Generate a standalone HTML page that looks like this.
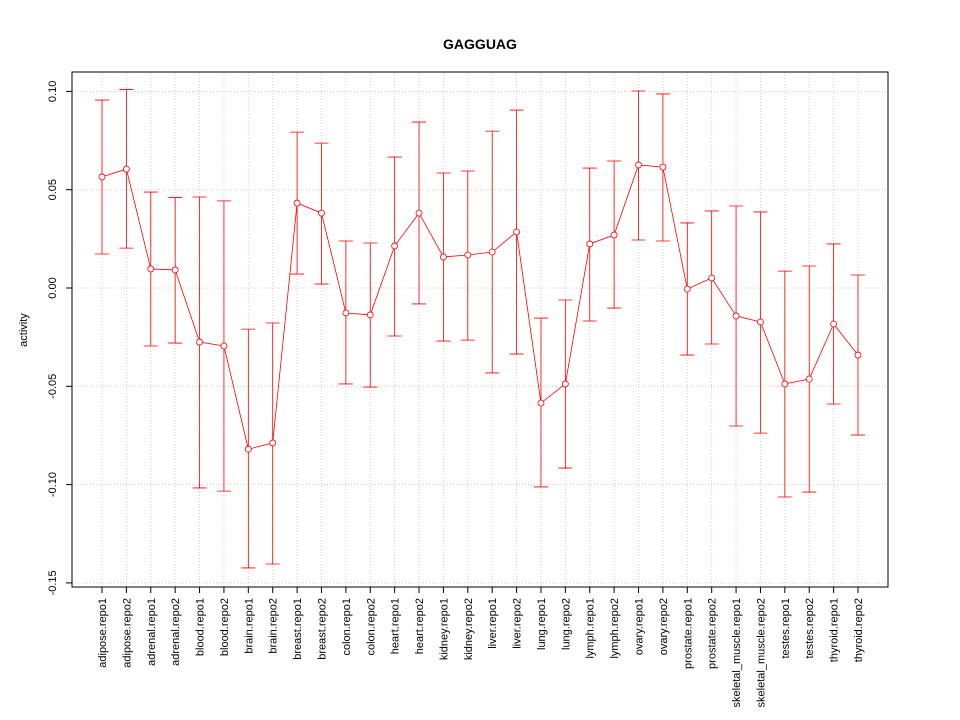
<!DOCTYPE html>
<html><head><meta charset="utf-8"><style>
body{margin:0;background:#fff;}
svg{display:block;font-family:"Liberation Sans",sans-serif;}
</style></head><body>
<svg id="chart" width="960" height="720">
<text x="480" y="49" text-anchor="middle" font-size="14" font-weight="bold">GAGGUAG</text>
<text transform="translate(27,330) rotate(-90)" text-anchor="middle" font-size="11">activity</text>
<g id="grid"></g><g id="yaxis"></g><g id="xaxis"></g><g id="series"></g>
<rect x="72" y="72" width="816" height="515" fill="none" stroke="#000"/>
</svg>
<script>
const categories=["adipose.repo1","adipose.repo2","adrenal.repo1","adrenal.repo2","blood.repo1","blood.repo2","brain.repo1","brain.repo2","breast.repo1","breast.repo2","colon.repo1","colon.repo2","heart.repo1","heart.repo2","kidney.repo1","kidney.repo2","liver.repo1","liver.repo2","lung.repo1","lung.repo2","lymph.repo1","lymph.repo2","ovary.repo1","ovary.repo2","prostate.repo1","prostate.repo2","skeletal_muscle.repo1","skeletal_muscle.repo2","testes.repo1","testes.repo2","thyroid.repo1","thyroid.repo2"];
const values=[0.0565,0.0605,0.0097,0.0092,-0.0275,-0.0295,-0.082,-0.0788,0.0432,0.0381,-0.0127,-0.0137,0.0214,0.0381,0.0158,0.0168,0.0183,0.0285,-0.0585,-0.0488,0.0224,0.027,0.0626,0.0615,-0.0005,0.0051,-0.0142,-0.0173,-0.0488,-0.0463,-0.0183,-0.0341];
const upper=[0.0956,0.101,0.0488,0.046,0.0463,0.0443,-0.0209,-0.0178,0.0793,0.0737,0.0239,0.0229,0.0666,0.0844,0.0585,0.0595,0.0798,0.0905,-0.0153,-0.0061,0.061,0.0646,0.1002,0.0987,0.0331,0.0392,0.0417,0.0387,0.0086,0.0112,0.0224,0.0066];
const lower=[0.0173,0.0203,-0.0295,-0.028,-0.1017,-0.1033,-0.1424,-0.1404,0.0071,0.002,-0.0488,-0.0504,-0.0244,-0.0081,-0.027,-0.0265,-0.0432,-0.0336,-0.1012,-0.0916,-0.0168,-0.0102,0.0244,0.0239,-0.0341,-0.0285,-0.0702,-0.0738,-0.1063,-0.1038,-0.059,-0.0748];
const yTicks=[0.10,0.05,0.00,-0.05,-0.10,-0.15];
const yTickLabels=["0.10","0.05","0.00","-0.05","-0.10","-0.15"];
const NS="http://www.w3.org/2000/svg";
const y=v=>288-v*1966;
const x=i=>102+i*(756/(categories.length-1));
function mk(tag,attrs,parent){const e=document.createElementNS(NS,tag);for(const k in attrs)e.setAttribute(k,attrs[k]);document.getElementById(parent).appendChild(e);return e;}
categories.forEach((c,i)=>{
 const g=mk("line",{x1:x(i),x2:x(i),y1:72,y2:587,stroke:"#ccc","stroke-dasharray":"1,2"},"grid");
 
 
 const t=mk("line",{x1:x(i),x2:x(i),y1:587,y2:593,stroke:"#000"},"xaxis");
 
 
 const l=mk("text",{transform:`translate(${x(i)+4},598) rotate(-90)`,"text-anchor":"end","font-size":"11"},"xaxis");
 l.textContent=c;
 
 
});
yTicks.forEach((v,i)=>{
 const g=mk("line",{x1:72,x2:888,y1:y(v),y2:y(v),stroke:"#ccc","stroke-dasharray":"1,2"},"grid");
 
 
 const t=mk("line",{x1:66,x2:72,y1:y(v),y2:y(v),stroke:"#000"},"yaxis");
 
 
 const l=mk("text",{transform:`translate(56,${y(v)}) rotate(-90)`,"text-anchor":"middle","font-size":"11"},"yaxis");
 l.textContent=yTickLabels[i];
 
 
});
const line=mk("polyline",{points:values.map((v,i)=>x(i)+","+y(v)).join(" "),fill:"none",stroke:"#f00","stroke-width":"0.8"},"series");


values.forEach((v,i)=>{
 const e=mk("path",{d:`M${x(i)},${y(upper[i])}V${y(lower[i])}M${x(i)-7},${y(upper[i])}h14M${x(i)-7},${y(lower[i])}h14`,stroke:"#f00",fill:"none","stroke-width":"0.8"},"series");
 
 
 const p=mk("circle",{cx:x(i),cy:y(v),r:3,fill:"#fff",stroke:"#f00","stroke-width":"0.8"},"series");
 
 
});
</script>
</body></html>
